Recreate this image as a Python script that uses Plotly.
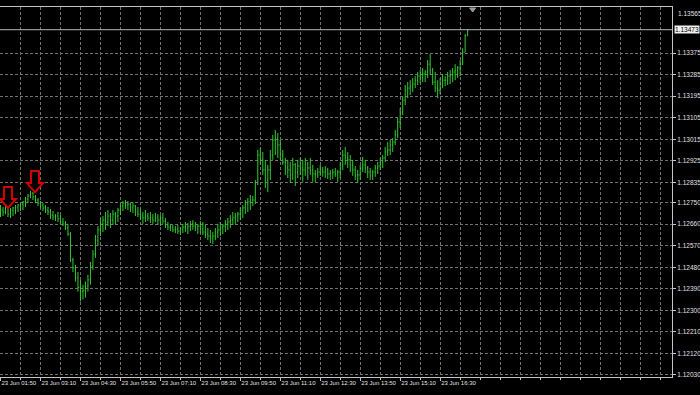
import pandas as pd
import plotly.graph_objects as go

# ---------------- data (EURUSD, M5 bars, 23 Jun) ----------------
start_time = "2016-06-23 01:50"
bar_minutes = 5

high = [
    1.12740, 1.12732, 1.12744, 1.12736, 1.12728, 1.12732, 1.12740, 1.12744, 1.12748, 1.12757,
    1.12774, 1.12786, 1.12799, 1.12794, 1.12782, 1.12769, 1.12757, 1.12748, 1.12740, 1.12732,
    1.12724, 1.12715, 1.12702, 1.12711, 1.12698, 1.12686, 1.12673, 1.12661, 1.12627, 1.12519,
    1.12490, 1.12460, 1.12427, 1.12407, 1.12420, 1.12448, 1.12502, 1.12552, 1.12615, 1.12652,
    1.12686, 1.12694, 1.12711, 1.12719, 1.12707, 1.12719, 1.12711, 1.12728, 1.12744, 1.12757,
    1.12761, 1.12757, 1.12748, 1.12753, 1.12740, 1.12732, 1.12724, 1.12711, 1.12719, 1.12707,
    1.12711, 1.12702, 1.12707, 1.12702, 1.12698, 1.12707, 1.12686, 1.12669, 1.12661, 1.12657,
    1.12652, 1.12657, 1.12648, 1.12661, 1.12669, 1.12665, 1.12673, 1.12677, 1.12669, 1.12661,
    1.12673, 1.12669, 1.12657, 1.12644, 1.12636, 1.12627, 1.12644, 1.12661, 1.12669, 1.12661,
    1.12677, 1.12686, 1.12698, 1.12711, 1.12707, 1.12711, 1.12728, 1.12740, 1.12761, 1.12769,
    1.12782, 1.12778, 1.12845, 1.12970, 1.12979, 1.12962, 1.12929, 1.12908, 1.12970, 1.13033,
    1.13054, 1.13041, 1.13012, 1.12970, 1.12937, 1.12929, 1.12920, 1.12937, 1.12916, 1.12929,
    1.12937, 1.12929, 1.12937, 1.12920, 1.12937, 1.12908, 1.12887, 1.12895, 1.12908, 1.12899,
    1.12903, 1.12895, 1.12887, 1.12891, 1.12895, 1.12887, 1.12920, 1.12970, 1.12983, 1.12962,
    1.12949, 1.12929, 1.12903, 1.12887, 1.12908, 1.12941, 1.12929, 1.12903, 1.12895, 1.12887,
    1.12908, 1.12920, 1.12937, 1.12949, 1.12983, 1.13003, 1.13012, 1.13020, 1.13054, 1.13104,
    1.13145, 1.13192, 1.13242, 1.13254, 1.13262, 1.13271, 1.13279, 1.13296, 1.13304, 1.13313,
    1.13304, 1.13346, 1.13371, 1.13313, 1.13296, 1.13262, 1.13271, 1.13288, 1.13279, 1.13296,
    1.13304, 1.13313, 1.13329, 1.13321, 1.13346, 1.13396, 1.13455, 1.13476,
]

low = [
    1.12690, 1.12694, 1.12702, 1.12690, 1.12686, 1.12694, 1.12702, 1.12711, 1.12715, 1.12719,
    1.12732, 1.12748, 1.12769, 1.12761, 1.12748, 1.12736, 1.12728, 1.12715, 1.12707, 1.12698,
    1.12682, 1.12677, 1.12673, 1.12669, 1.12661, 1.12652, 1.12636, 1.12610, 1.12502, 1.12460,
    1.12420, 1.12378, 1.12337, 1.12345, 1.12353, 1.12378, 1.12407, 1.12469, 1.12519, 1.12569,
    1.12610, 1.12627, 1.12636, 1.12652, 1.12644, 1.12657, 1.12661, 1.12669, 1.12698, 1.12715,
    1.12724, 1.12719, 1.12711, 1.12707, 1.12694, 1.12690, 1.12677, 1.12661, 1.12669, 1.12673,
    1.12665, 1.12661, 1.12669, 1.12657, 1.12652, 1.12661, 1.12644, 1.12636, 1.12631, 1.12627,
    1.12623, 1.12619, 1.12615, 1.12623, 1.12627, 1.12619, 1.12631, 1.12636, 1.12631, 1.12619,
    1.12623, 1.12615, 1.12602, 1.12593, 1.12581, 1.12577, 1.12593, 1.12602, 1.12610, 1.12619,
    1.12627, 1.12636, 1.12644, 1.12657, 1.12661, 1.12669, 1.12677, 1.12686, 1.12702, 1.12711,
    1.12719, 1.12736, 1.12744, 1.12824, 1.12908, 1.12866, 1.12811, 1.12794, 1.12845, 1.12929,
    1.12949, 1.12937, 1.12929, 1.12908, 1.12866, 1.12853, 1.12832, 1.12845, 1.12820, 1.12853,
    1.12866, 1.12837, 1.12862, 1.12845, 1.12866, 1.12837, 1.12837, 1.12853, 1.12862, 1.12858,
    1.12853, 1.12849, 1.12845, 1.12849, 1.12858, 1.12837, 1.12853, 1.12887, 1.12908, 1.12895,
    1.12878, 1.12862, 1.12845, 1.12832, 1.12845, 1.12878, 1.12874, 1.12853, 1.12845, 1.12845,
    1.12858, 1.12870, 1.12887, 1.12895, 1.12920, 1.12945, 1.12949, 1.12962, 1.12991, 1.13020,
    1.13062, 1.13116, 1.13158, 1.13187, 1.13200, 1.13212, 1.13229, 1.13242, 1.13250, 1.13254,
    1.13254, 1.13271, 1.13283, 1.13242, 1.13212, 1.13187, 1.13204, 1.13229, 1.13237, 1.13242,
    1.13246, 1.13254, 1.13262, 1.13271, 1.13279, 1.13325, 1.13379, 1.13447,
]

close = [
    1.12719, 1.12711, 1.12728, 1.12702, 1.12719, 1.12728, 1.12732, 1.12740, 1.12744, 1.12753,
    1.12765, 1.12778, 1.12790, 1.12774, 1.12761, 1.12748, 1.12740, 1.12728, 1.12719, 1.12711,
    1.12698, 1.12690, 1.12694, 1.12682, 1.12669, 1.12661, 1.12644, 1.12619, 1.12510, 1.12477,
    1.12435, 1.12395, 1.12378, 1.12383, 1.12400, 1.12427, 1.12485, 1.12535, 1.12593, 1.12636,
    1.12661, 1.12677, 1.12669, 1.12694, 1.12677, 1.12702, 1.12694, 1.12719, 1.12736, 1.12748,
    1.12740, 1.12744, 1.12728, 1.12736, 1.12711, 1.12702, 1.12694, 1.12686, 1.12694, 1.12686,
    1.12686, 1.12677, 1.12686, 1.12677, 1.12686, 1.12673, 1.12657, 1.12648, 1.12644, 1.12636,
    1.12640, 1.12631, 1.12640, 1.12648, 1.12644, 1.12652, 1.12661, 1.12652, 1.12644, 1.12652,
    1.12640, 1.12627, 1.12619, 1.12610, 1.12602, 1.12610, 1.12627, 1.12636, 1.12644, 1.12652,
    1.12661, 1.12669, 1.12677, 1.12686, 1.12694, 1.12702, 1.12719, 1.12728, 1.12744, 1.12753,
    1.12761, 1.12761, 1.12828, 1.12949, 1.12929, 1.12887, 1.12845, 1.12887, 1.12949, 1.13012,
    1.13020, 1.12991, 1.12949, 1.12920, 1.12895, 1.12887, 1.12866, 1.12908, 1.12878, 1.12903,
    1.12895, 1.12887, 1.12912, 1.12895, 1.12887, 1.12870, 1.12870, 1.12878, 1.12887, 1.12878,
    1.12887, 1.12870, 1.12874, 1.12878, 1.12870, 1.12878, 1.12908, 1.12949, 1.12937, 1.12929,
    1.12908, 1.12887, 1.12866, 1.12866, 1.12895, 1.12908, 1.12895, 1.12878, 1.12866, 1.12878,
    1.12895, 1.12903, 1.12920, 1.12937, 1.12962, 1.12970, 1.12991, 1.13003, 1.13033, 1.13087,
    1.13129, 1.13178, 1.13220, 1.13229, 1.13237, 1.13246, 1.13262, 1.13279, 1.13283, 1.13288,
    1.13296, 1.13329, 1.13304, 1.13254, 1.13229, 1.13220, 1.13246, 1.13262, 1.13262, 1.13279,
    1.13283, 1.13296, 1.13304, 1.13313, 1.13329, 1.13379, 1.13447, 1.13473,
]

price_labels = ["1.13375", "1.13285", "1.13195", "1.13105", "1.13015", "1.12925",
                "1.12835", "1.12750", "1.12660", "1.12570", "1.12480", "1.12390",
                "1.12300", "1.12210", "1.12120", "1.12030"]
top_label = "1.13565"
bid_price = 1.13473

time_labels = ["23 Jun 01:50", "23 Jun 03:10", "23 Jun 04:30", "23 Jun 05:50",
               "23 Jun 07:10", "23 Jun 08:30", "23 Jun 09:50", "23 Jun 11:10",
               "23 Jun 12:30", "23 Jun 13:50", "23 Jun 15:10", "23 Jun 16:30"]
label_step_minutes = 80
grid_step_minutes = 40

arrow_times = ["2016-06-23 02:05", "2016-06-23 02:59"]
arrow_prices = [1.12728, 1.12794]

price_range = [1.12021, 1.13568]
view_minutes = 1344

# ---------------- build ----------------
n = len(close)
t0 = pd.Timestamp(start_time)
times = pd.date_range(t0, periods=n, freq=f"{bar_minutes}min")
opens = []
for i in range(n):
    prev = close[i - 1] if i > 0 else close[0]
    opens.append(min(max(prev, low[i]), high[i]))

tick_vals = [t0 + pd.Timedelta(minutes=label_step_minutes * k) for k in range(len(time_labels))]

GREEN = "#32cc32"
GRID = "#707070"
AXIS = "#c4c4c4"
TXT = "#e0e0e0"
FONT = "Liberation Sans"
FS_X = 6
FS_Y = 6.5

fig = go.Figure()
fig.add_trace(go.Ohlc(
    x=times, open=opens, high=high, low=low, close=close,
    increasing=dict(line=dict(color=GREEN, width=1)),
    decreasing=dict(line=dict(color=GREEN, width=1)),
    tickwidth=0.3, hoverinfo="skip",
))

# current price line
fig.add_shape(type="line", xref="paper", x0=0, x1=1, yref="y", y0=bid_price, y1=bid_price,
              line=dict(color="#b8b8b8", width=1), layer="above")
fig.add_annotation(xref="paper", x=1, xanchor="left", xshift=2, yref="y", y=bid_price,
                   text=f"{bid_price:.5f}", showarrow=False, bgcolor="#f0f0f0",
                   font=dict(family=FONT, size=FS_Y, color="black"), borderpad=0)
fig.add_annotation(xref="paper", x=1, xanchor="left", xshift=4, yref="paper", y=1,
                   yanchor="top", yshift=-1, text=top_label, showarrow=False,
                   font=dict(family=FONT, size=FS_Y, color=TXT))

# red down arrows (anchored at their tip)
arrow_path = "M 0,0 L -8,9 L -4,9 L -4,21 L 4,21 L 4,9 L 8,9 Z"
for at, ap in zip(arrow_times, arrow_prices):
    fig.add_shape(type="path", xref="x", yref="y", xsizemode="pixel", ysizemode="pixel",
                  xanchor=at, yanchor=ap, path=arrow_path,
                  line=dict(color="#d40000", width=2), fillcolor="black", layer="above")

# chart shift marker
shift_x = times[-1] + pd.Timedelta(minutes=2 * bar_minutes)
fig.add_shape(type="path", xref="x", yref="paper", xsizemode="pixel", ysizemode="pixel",
              xanchor=shift_x, yanchor=1, path="M -3,-1 L 3,-1 L 0,-5 Z",
              line=dict(color="#9a9a9a", width=1), fillcolor="#9a9a9a", layer="above")

fig.update_layout(
    width=700, height=395,
    margin=dict(l=0, r=28, t=7, b=18),
    paper_bgcolor="black", plot_bgcolor="black",
    showlegend=False,
    font=dict(family=FONT, size=FS_Y, color=TXT),
    xaxis=dict(
        type="date",
        range=[t0 - pd.Timedelta(minutes=1), t0 + pd.Timedelta(minutes=view_minutes)],
        tickmode="array", tickvals=tick_vals, ticktext=time_labels,
        ticks="outside", ticklen=3, tickcolor=AXIS, tickangle=0,
        ticklabelposition="outside right",
        tickfont=dict(family=FONT, size=FS_X, color=TXT),
        showgrid=True, gridcolor=GRID, griddash="3px,2px", gridwidth=1,
        minor=dict(tick0=t0, dtick=grid_step_minutes * 60 * 1000, ticks="outside",
                   ticklen=2, tickcolor=AXIS, showgrid=True, gridcolor=GRID,
                   griddash="3px,2px", gridwidth=1),
        showline=True, linecolor=AXIS, linewidth=1, mirror=True,
        zeroline=False, rangeslider=dict(visible=False), fixedrange=True,
    ),
    yaxis=dict(
        side="right",
        range=price_range,
        tickmode="array", tickvals=[float(v) for v in price_labels], ticktext=price_labels,
        ticks="outside", ticklen=3, tickcolor=AXIS,
        tickfont=dict(family=FONT, size=FS_Y, color=TXT),
        showgrid=True, gridcolor=GRID, griddash="3px,2px", gridwidth=1,
        showline=True, linecolor=AXIS, linewidth=1,
        zeroline=False, fixedrange=True,
    ),
)

fig.write_html("out.html")
